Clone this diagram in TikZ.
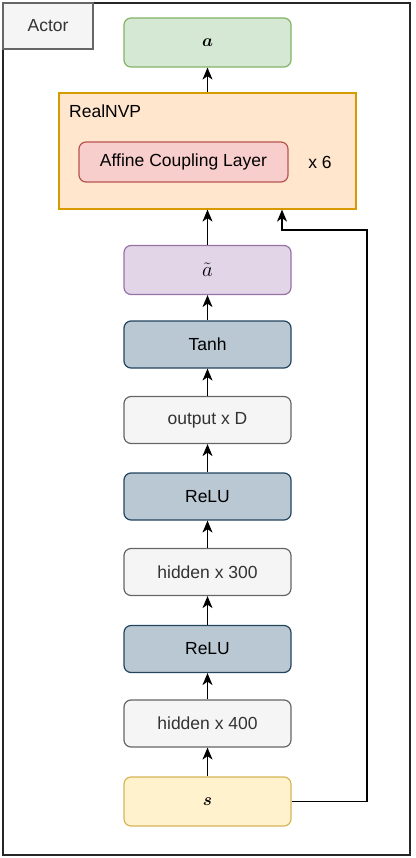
\documentclass[tikz,border=0pt]{standalone}
\usepackage{fontspec}
\usepackage{amsmath,bm}
\setmainfont{Liberation Sans}
\usetikzlibrary{arrows.meta}

\definecolor{greenfill}{HTML}{D5E8D4}\definecolor{greenline}{HTML}{82B366}
\definecolor{orangefill}{HTML}{FFE6CC}\definecolor{orangeline}{HTML}{D79B00}
\definecolor{redfill}{HTML}{F8CECC}\definecolor{redline}{HTML}{B85450}
\definecolor{purplefill}{HTML}{E1D5E7}\definecolor{purpleline}{HTML}{9673A6}
\definecolor{bluefill}{HTML}{BAC8D3}\definecolor{blueline}{HTML}{23445D}
\definecolor{grayfill}{HTML}{F5F5F5}\definecolor{grayline}{HTML}{666666}
\definecolor{graytext}{HTML}{333333}
\definecolor{yellowfill}{HTML}{FFF2CC}\definecolor{yellowline}{HTML}{D6B656}

\tikzset{
  layer/.style={rounded corners=7pt, line width=1.2pt, minimum width=167pt, minimum height=47pt,
    inner sep=0pt, font=\fontsize{17.5}{20}\selectfont},
  greenbox/.style={layer, fill=greenfill, draw=greenline, minimum height=49pt},
  purplebox/.style={layer, fill=purplefill, draw=purpleline, minimum height=49pt},
  yellowbox/.style={layer, fill=yellowfill, draw=yellowline, minimum height=49pt},
  bluebox/.style={layer, fill=bluefill, draw=blueline},
  graybox/.style={layer, fill=grayfill, draw=grayline, text=graytext},
  flow/.style={line width=1.3pt, -{Stealth[length=12pt, width=10pt, inset=3.5pt]}},
}

\begin{document}
\begin{tikzpicture}[x=1pt, y=-1pt]
			\useasboundingbox (0, 0) rectangle (415, 858);
			
			% frame and tab
			\draw[line width=2pt, color=black!85] (3, 3) rectangle (410, 855);
			\node[draw=grayline, fill=grayfill, line width=1.2pt, minimum width=90pt, minimum height=46pt,
			      inner sep=0pt, text=graytext, font=\fontsize{17.5}{20}\selectfont] (actor) at (48, 26) {Actor};
			
			% realnvp block
			\node[draw=orangeline, fill=orangefill, line width=1.2pt, minimum width=297pt, minimum height=116pt,
			      inner sep=0pt] (realnvp) at (207.5, 151) {};
			\node[anchor=west, inner sep=0pt, font=\fontsize{17.5}{20}\selectfont] (nvplabel) at (69, 111) {RealNVP};
			\node[layer, fill=redfill, draw=redline, minimum width=209pt, minimum height=40pt] (coupling) at (183.5, 162) {Affine Coupling Layer};
			\node[inner sep=0pt, font=\fontsize{17.5}{20}\selectfont] (times) at (320, 162) {x 6};
			
			% layers
			\node[greenbox] (action) at (207.5, 42.5) {$\bm{a}$};
			\node[purplebox, font=\fontsize{22}{24}\selectfont] (pre) at (207.5, 270) {$\tilde{a}$};
			\node[bluebox] (tanh) at (207.5, 344.5) {Tanh};
			\node[graybox] (out) at (207.5, 420) {output x D};
			\node[bluebox] (relu2) at (207.5, 496.5) {ReLU};
			\node[graybox] (hid2) at (207.5, 572) {hidden x 300};
			\node[bluebox] (relu1) at (207.5, 649) {ReLU};
			\node[graybox] (hid1) at (207.5, 723.5) {hidden x 400};
			\node[yellowbox] (state) at (207.5, 801.5) {$\bm{s}$};
			
			% arrows
			\draw[flow] (state) -- (hid1);
			\draw[flow] (hid1) -- (relu1);
			\draw[flow] (relu1) -- (hid2);
			\draw[flow] (hid2) -- (relu2);
			\draw[flow] (relu2) -- (out);
			\draw[flow] (out) -- (tanh);
			\draw[flow] (tanh) -- (pre);
			\draw[flow] (pre) -- (realnvp);
			\draw[flow] (realnvp) -- (action);
			
			% skip connection
			\coordinate (skip) at (282, 230);
			\draw[flow] (state.east) -| (367, 230) -- (skip) -- (skip |- realnvp.south);
\end{tikzpicture}
\end{document}
